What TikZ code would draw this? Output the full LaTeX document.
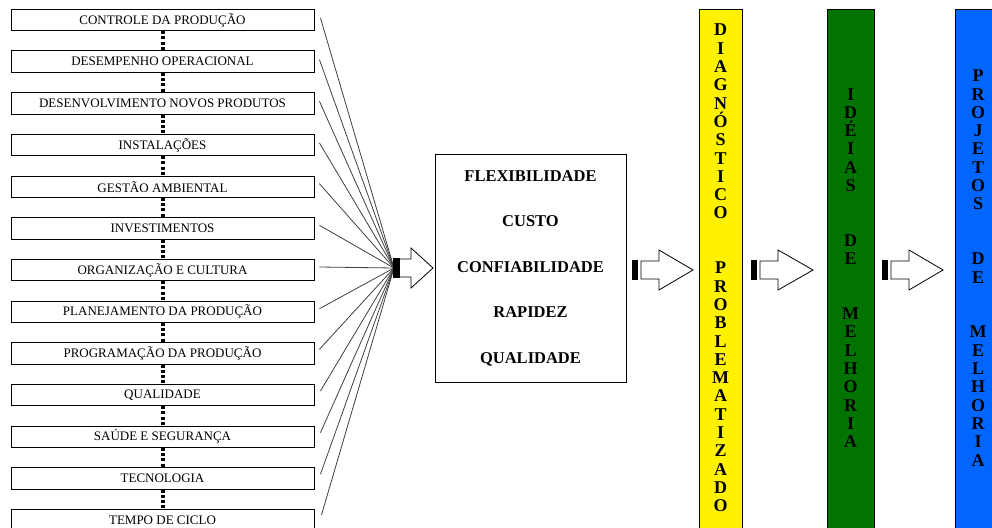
\documentclass[tikz,border=0pt]{standalone}
\usepackage{fontspec}
\setmainfont{Liberation Serif}
\definecolor{stageblue}{RGB}{0,102,255}
\definecolor{stagegreen}{RGB}{0,115,0}

\begin{document}
\begin{tikzpicture}[x=1pt,y=-1pt,
    factor/.style={draw, line width=0.9pt, minimum width=303pt, minimum height=21.5pt, inner sep=0pt, font=\fontsize{13}{13}\selectfont},
    dotlink/.style={line width=4pt, dash pattern=on 3pt off 2.2pt},
    fanline/.style={line width=0.8pt, black!75},
    stub/.style={fill=black, inner sep=0pt, minimum width=6pt, minimum height=20pt},
    hollow/.style={draw, line width=0.8pt, fill=white, line join=miter},
    stage/.style={draw, line width=0.9pt, anchor=north, minimum width=43pt, minimum height=530pt, inner sep=0pt},
    vtext/.style={align=center, font=\bfseries\fontsize{18}{18.3}\selectfont}]
				\useasboundingbox (0,0) rectangle (992,527);
				\begin{scope}[every node/.style={factor}]
					\node (controle) at (162.5,20) {CONTROLE DA PRODUÇÃO};
					\node (desempenho) at (162.5,61.7) {DESEMPENHO OPERACIONAL};
					\node (desenvolvimento) at (162.5,103.3) {DESENVOLVIMENTO NOVOS PRODUTOS};
					\node (instalacoes) at (162.5,145) {INSTALAÇÕES};
					\node (gestao) at (162.5,186.7) {GESTÃO AMBIENTAL};
					\node (investimentos) at (162.5,228.3) {INVESTIMENTOS};
					\node (organizacao) at (162.5,270) {ORGANIZAÇÃO E CULTURA};
					\node (planejamento) at (162.5,311.7) {PLANEJAMENTO DA PRODUÇÃO};
					\node (programacao) at (162.5,353.3) {PROGRAMAÇÃO DA PRODUÇÃO};
					\node (qualidade) at (162.5,395) {QUALIDADE};
					\node (saude) at (162.5,436.7) {SAÚDE E SEGURANÇA};
					\node (tecnologia) at (162.5,478.3) {TECNOLOGIA};
					\node (tempo) at (162.5,520) {TEMPO DE CICLO};
				\end{scope}
				\draw [dotlink] (controle) -- (desempenho);
				\draw [dotlink] (desempenho.south) -- (desenvolvimento.north);
				\draw [dotlink] (desenvolvimento.south) -- (instalacoes.north);
				\draw [dotlink] (instalacoes.south) -- (gestao.north);
				\draw [dotlink] (gestao.south) -- (investimentos.north);
				\draw [dotlink] (investimentos.south) -- (organizacao.north);
				\draw [dotlink] (organizacao.south) -- (planejamento.north);
				\draw [dotlink] (planejamento.south) -- (programacao.north);
				\draw [dotlink] (programacao.south) -- (qualidade.north);
				\draw [dotlink] (qualidade.south) -- (saude.north);
				\draw [dotlink] (saude.south) -- (tecnologia.north);
				\draw [dotlink] (tecnologia.south) -- (tempo.north);
				\coordinate (hub) at (394,268);
				\draw [fanline] ([xshift=6pt,yshift=2pt]controle.east) -- (hub);
				\draw [fanline] ([xshift=5pt,yshift=2pt]desempenho.east) -- (hub);
				\draw [fanline] ([xshift=5pt,yshift=2pt]desenvolvimento.east) -- (hub);
				\draw [fanline] ([xshift=5pt,yshift=2pt]instalacoes.east) -- (hub);
				\draw [fanline] ([xshift=5pt,yshift=3pt]gestao.east) -- (hub);
				\draw [fanline] ([xshift=5pt,yshift=3pt]investimentos.east) -- (hub);
				\draw [fanline] ([xshift=5pt,yshift=3pt]organizacao.east) -- (hub);
				\draw [fanline] ([xshift=5pt,yshift=3pt]planejamento.east) -- (hub);
				\draw [fanline] ([xshift=5pt,yshift=4pt]programacao.east) -- (hub);
				\draw [fanline] ([xshift=6pt,yshift=4pt]qualidade.east) -- (hub);
				\draw [fanline] ([xshift=6pt,yshift=4pt]saude.east) -- (hub);
				\draw [fanline] ([xshift=6pt,yshift=4pt]tecnologia.east) -- (hub);
				\draw [fanline] ([xshift=7pt,yshift=5pt]tempo.east) -- (hub);
				% first block arrow
				\node [stub, minimum width=7pt] (r1) at (396.5,268) {};
				\draw [hollow] (r1.east) ++(0,-9) -- (411,259) -- (411,248) -- (433,268) -- (411,288) -- (411,277) -- (400,277);
				\node [draw, line width=0.9pt, minimum width=191pt, minimum height=228pt, align=center, font=\bfseries\fontsize{16.5}{45.5}\selectfont] (criterios) at (530.5,268) {FLEXIBILIDADE\\CUSTO\\CONFIABILIDADE\\RAPIDEZ\\QUALIDADE};
				% stages
				\node [stage, fill=yellow] (diagnostico) at (720.5,9.3) {};
				\node [stage, fill=stagegreen, minimum width=47pt] (ideias) at (850.5,9.3) {};
				\node [stage, fill=stageblue, minimum width=46pt] (projetos) at (978,9.3) {};
				\node [vtext] (diagtxt) at (720.5,268) {D\\I\\A\\G\\N\\Ó\\S\\T\\I\\C\\O\\[36.6pt]P\\R\\O\\B\\L\\E\\M\\A\\T\\I\\Z\\A\\D\\O};
				\node [vtext] (ideiastxt) at (850.5,268) {I\\D\\É\\I\\A\\S\\[36.6pt]D\\E\\[36.6pt]M\\E\\L\\H\\O\\R\\I\\A};
				\node [vtext] (projetostxt) at (978,268) {P\\R\\O\\J\\E\\T\\O\\S\\[36.6pt]D\\E\\[36.6pt]M\\E\\L\\H\\O\\R\\I\\A};
				% block arrows between stages
				\node [stub] (r2) at (635,270) {};
				\draw [hollow] (641,261) -- (659,261) -- (659,250) -- (693,270) -- (659,290) -- (659,279) -- (641,279) -- cycle;
				\node [stub] (r3) at (754,270) {};
				\draw [hollow] (760,261) -- (778,261) -- (778,250) -- (813,270) -- (778,290) -- (778,279) -- (760,279) -- cycle;
				\node [stub] (r4) at (885,270) {};
				\draw [hollow] (891,261) -- (909,261) -- (909,250) -- (943,270) -- (909,290) -- (909,279) -- (891,279) -- cycle;
			\end{tikzpicture}
\end{document}
